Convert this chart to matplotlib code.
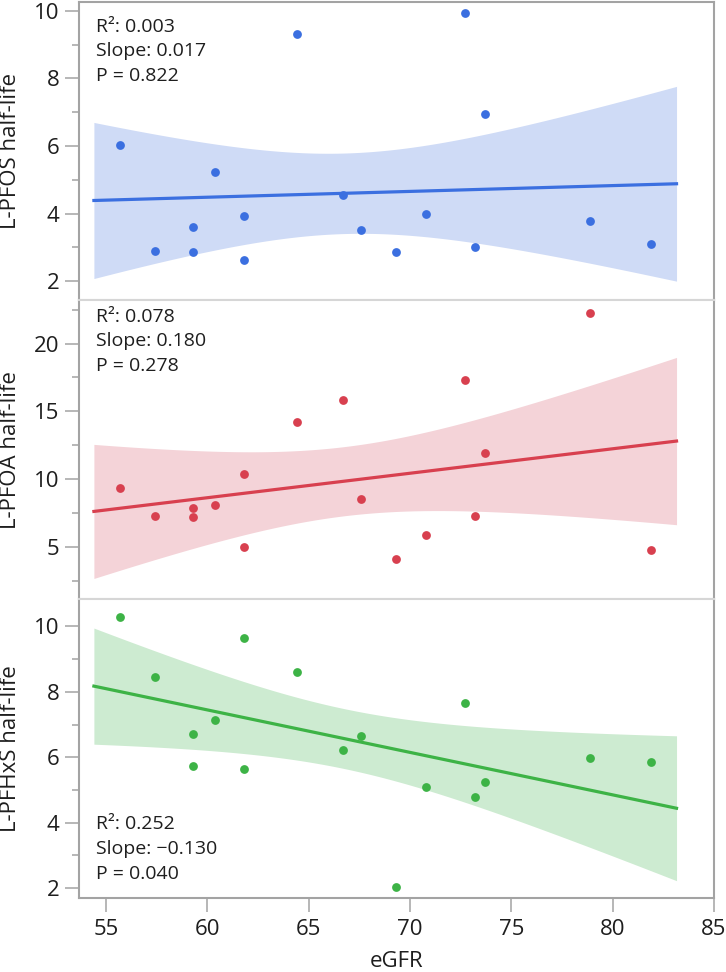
import numpy as np
import matplotlib.pyplot as plt
from matplotlib.ticker import MultipleLocator

plt.rcParams['font.family'] = ['Open Sans', 'DejaVu Sans']

# eGFR of each subject (same subjects in all three panels)
egfr = [55.7, 57.4, 59.3, 59.3, 60.4, 61.8, 61.8, 64.4, 66.7, 67.6,
        69.3, 70.8, 72.7, 73.2, 73.7, 78.9, 81.9]

pfos = [6.02, 2.90, 3.60, 2.85, 5.23, 3.93, 2.62, 9.32, 4.55, 3.51,
        2.85, 4.00, 9.94, 3.02, 6.94, 3.78, 3.11]
pfoa = [9.38, 7.32, 7.86, 7.20, 8.06, 10.36, 5.02, 14.25, 15.86, 8.57,
        4.14, 5.90, 17.31, 7.32, 11.95, 22.25, 4.75]
pfhxs = [10.29, 8.45, 6.71, 5.73, 7.14, 9.64, 5.63, 8.62, 6.21, 6.64,
         2.02, 5.08, 7.67, 4.78, 5.23, 5.97, 5.86]

ylabels = ['L-PFOS half-life', 'L-PFOA half-life', 'L-PFHxS half-life']
stats = [['R²: 0.003', 'Slope: 0.017', 'P = 0.822'],
         ['R²: 0.078', 'Slope: 0.180', 'P = 0.278'],
         ['R²: 0.252', 'Slope: \u22120.130', 'P = 0.040']]
fit_range = [54.4, 83.15]
t_crit = 2.131  # t(0.975, df=15)

colors = ['#3b6fe0', '#d8404f', '#3db346']
bands = ['#cfdbf6', '#f4d3d8', '#cdebd1']
ylims = [(1.43, 10.27), (1.16, 23.19), (1.70, 10.84)]
major = [2, 5, 2]
minor = [1, 2.5, 1]
text_y = [[0.916, 0.834, 0.750], [0.945, 0.864, 0.781], [0.246, 0.162, 0.079]]

frame = '#a3a3a3'
sep = '#d6d6d6'
txt = '#1e1e1e'

fig = plt.figure(figsize=(7.26, 9.72), dpi=100)
axes = fig.subplots(3, 1, sharex=True)
fig.subplots_adjust(left=0.1084, right=0.9835, top=0.9983, bottom=0.0764, hspace=0)

x = np.array(egfr)
for i, (ax, y) in enumerate(zip(axes, [pfos, pfoa, pfhxs])):
    y = np.array(y)
    n = len(x)
    b, a = np.polyfit(x, y, 1)
    resid = y - (a + b * x)
    s = np.sqrt(np.sum(resid ** 2) / (n - 2))
    sxx = np.sum((x - x.mean()) ** 2)
    xf = np.linspace(fit_range[0], fit_range[1], 200)
    yf = a + b * xf
    half = t_crit * s * np.sqrt(1 / n + (xf - x.mean()) ** 2 / sxx)

    ax.fill_between(xf, yf - half, yf + half, color=bands[i], lw=0, zorder=1)
    ax.plot(xf, yf, color=colors[i], lw=2.3, zorder=2)
    ax.scatter(x, y, s=40, color=colors[i], lw=0, zorder=3)

    ax.set_ylim(*ylims[i])
    ax.yaxis.set_major_locator(MultipleLocator(major[i]))
    ax.yaxis.set_minor_locator(MultipleLocator(minor[i]))
    ax.tick_params(axis='y', which='major', length=10, width=1.1, color=frame,
                   labelsize=16, labelcolor=txt, pad=4)
    ax.tick_params(axis='y', which='minor', length=5, width=1.1, color=frame)
    ax.set_ylabel(ylabels[i], fontsize=16, color=txt, va='center')
    ax.yaxis.set_label_coords(-0.107, 0.5)

    for side in ['left', 'right', 'top', 'bottom']:
        ax.spines[side].set_color(frame)
        ax.spines[side].set_linewidth(1.5)
    if i > 0:
        ax.spines['top'].set_color(sep)
    if i < 2:
        ax.spines['bottom'].set_color(sep)
        ax.tick_params(axis='x', which='both', length=0, labelbottom=False)

    for j, line in enumerate(stats[i]):
        ax.text(0.027, text_y[i][j], line, transform=ax.transAxes,
                fontsize=14, color=txt, va='center', ha='left')

ax = axes[2]
ax.set_xlim(53.65, 85)
ax.xaxis.set_major_locator(MultipleLocator(5))
ax.tick_params(axis='x', which='major', length=10, width=1.1, color=frame,
               labelsize=16, labelcolor=txt, pad=5)
ax.set_xlabel('eGFR', fontsize=16, color=txt, labelpad=8)

plt.savefig('out.png', dpi=100)
